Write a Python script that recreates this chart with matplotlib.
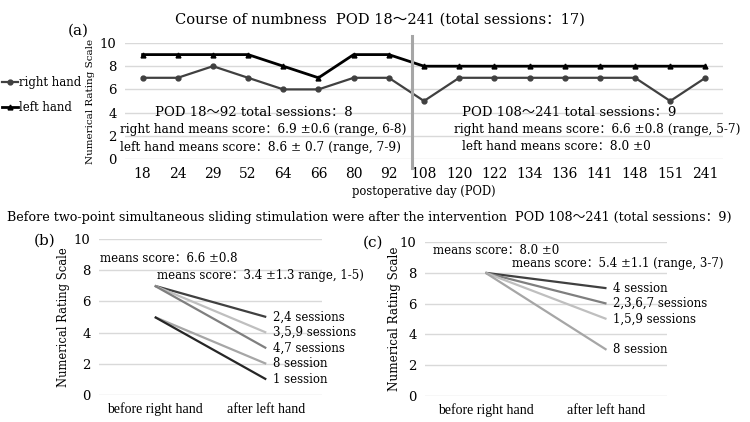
import numpy as np
import matplotlib
matplotlib.use('Agg')
import matplotlib.pyplot as plt
from matplotlib.lines import Line2D
from matplotlib.transforms import ScaledTranslation

plt.rcParams['font.family'] = ['DejaVu Serif', 'Noto Sans CJK SC']

# ── data ──
pod = ['18', '24', '29', '52', '64', '66', '80', '92', '108', '120', '122',
       '134', '136', '141', '148', '151', '241']
right_hand = [7, 7, 8, 7, 6, 6, 7, 7, 5, 7, 7, 7, 7, 7, 7, 5, 7]
left_hand = [9, 9, 9, 9, 8, 7, 9, 9, 8, 8, 8, 8, 8, 8, 8, 8, 8]

pair_cats = ['before right hand', 'after left hand']
b_before = [7, 7, 7, 5, 5]
b_after = [5, 4, 3, 2, 1]
b_labels = ['2,4 sessions', '3,5,9 sessions', '4,7 sessions', '8 session', '1 session']
b_colors = ['#404040', '#bfbfbf', '#7f7f7f', '#a6a6a6', '#262626']

c_before = [8, 8, 8, 8]
c_after = [7, 6, 5, 3]
c_labels = ['4 session', '2,3,6,7 sessions', '1,5,9 sessions', '8 session']
c_colors = ['#404040', '#7f7f7f', '#bfbfbf', '#a6a6a6']

W, H = 750, 422
fig = plt.figure(figsize=(W / 100, H / 100), dpi=100)


def box(x0, y0, x1, y1):
    return [x0 / W, 1 - y1 / H, (x1 - x0) / W, (y1 - y0) / H]


def ftext(x, y, s, **kw):
    kw.setdefault('va', 'center')
    fig.text(x / W, 1 - y / H, s, **kw)


def style(ax, ylab_size, ylab_x):
    ax.set_ylim(0, 10)
    ax.set_yticks(range(0, 11, 2))
    ax.grid(axis='y', color='#d9d9d9', lw=1)
    ax.set_axisbelow(True)
    for sp in ax.spines.values():
        sp.set_visible(False)
    ax.tick_params(length=0, labelsize=10)
    ax.tick_params(axis='y', pad=6, labelsize=9.5)
    ax.tick_params(axis='x', pad=5.5)
    ax.set_ylabel('Numerical Rating Scale', fontsize=ylab_size)
    ax.yaxis.set_label_coords(ylab_x, 0.5)


# ── (a) course of numbness ──
ax = fig.add_axes(box(125, 43, 723, 159))
xs = np.arange(len(pod))
ax.plot(xs, right_hand, color='#404040', lw=1.6, marker='o', ms=3.5, label='right hand')
ax.plot(xs, left_hand, color='black', lw=2, marker='^', ms=3.5, label='left hand')
ax.set_xlim(-0.5, len(pod) - 0.5)
ax.set_xticks(xs)
ax.set_xticklabels(pod)
style(ax, 7.5, -0.05)
ax.set_xlabel('postoperative day (POD)', fontsize=8.3)
ax.xaxis.set_label_coords(0.5, -0.225)
ax.axvline(7.65, ymin=-0.08, ymax=1.06, color='#a6a6a6', lw=2.2, clip_on=False)

leg = [Line2D([0], [0], color='#404040', lw=1.6, marker='o', ms=3.5, label='right hand'),
       Line2D([0], [0], color='black', lw=2, marker='^', ms=3.5, label='left hand')]
fig.legend(handles=leg, loc='upper left', bbox_to_anchor=(0, 1 - 74 / H), frameon=False,
           fontsize=8.5, handlelength=1.3, handletextpad=0.1, labelspacing=1.0,
           borderaxespad=0, borderpad=0.2)

ftext(380, 20, 'Course of numbness  POD 18～241 (total sessions：17)', ha='center', fontsize=10.5)
ftext(78, 31, '(a)', ha='center', fontsize=11)
ftext(155, 113, 'POD 18～92 total sessions：8', fontsize=9.5)
ftext(120, 130, 'right hand means score：6.9 ±0.6 (range, 6-8)', fontsize=8.7)
ftext(120, 147, 'left hand means score：8.6 ± 0.7 (range, 7-9)', fontsize=8.7)
ftext(462, 113, 'POD 108～241 total sessions：9', fontsize=9.5)
ftext(454, 130, 'right hand means score：6.6 ±0.8 (range, 5-7)', fontsize=8.7)
ftext(462, 147, 'left hand means score：8.0 ±0', fontsize=8.7)

ftext(7, 217, 'Before two-point simultaneous sliding stimulation were after the intervention  '
      'POD 108～241 (total sessions：9)', fontsize=9.2)

# ── (b) ──
axb = fig.add_axes(box(99, 239, 322, 395))
for bv, av, lab, col in zip(b_before, b_after, b_labels, b_colors):
    axb.plot([0, 1], [bv, av], color=col, lw=1.6, solid_capstyle='butt')
    axb.annotate(lab, (1, av), xytext=(5, 0), textcoords='offset points',
                 va='center', fontsize=8.5)
axb.set_xlim(-0.5, 1.5)
axb.set_xticks([0, 1])
axb.set_xticklabels(pair_cats, fontsize=9, family='Liberation Serif')
style(axb, 8.3, -0.13)
ftext(45, 241, '(b)', ha='center', fontsize=11)
ftext(100, 259, 'means score：6.6 ±0.8', fontsize=8.5)
ftext(157, 276, 'means score：3.4 ±1.3 range, 1-5)', fontsize=8.5)

# ── (c) ──
axc = fig.add_axes(box(425, 242, 667, 396))
for bv, av, lab, col in zip(c_before, c_after, c_labels, c_colors):
    axc.plot([0, 1], [bv, av], color=col, lw=1.6, solid_capstyle='butt')
    axc.annotate(lab, (1, av), xytext=(5, 0), textcoords='offset points',
                 va='center', fontsize=8.5)
axc.set_xlim(-0.5, 1.5)
axc.set_xticks([0, 1])
axc.set_xticklabels(pair_cats, fontsize=9, family='Liberation Serif')
for t in axc.get_xticklabels():
    t.set_transform(t.get_transform() + ScaledTranslation(16 / 100, 0, fig.dpi_scale_trans))
style(axc, 8.6, -0.1)
ftext(373, 243, '(c)', ha='center', fontsize=11)
ftext(433, 251, 'means score：8.0 ±0', fontsize=8.5)
ftext(512, 264, 'means score：5.4 ±1.1 (range, 3-7)', fontsize=8.5)

fig.savefig('out.png', dpi=100)
